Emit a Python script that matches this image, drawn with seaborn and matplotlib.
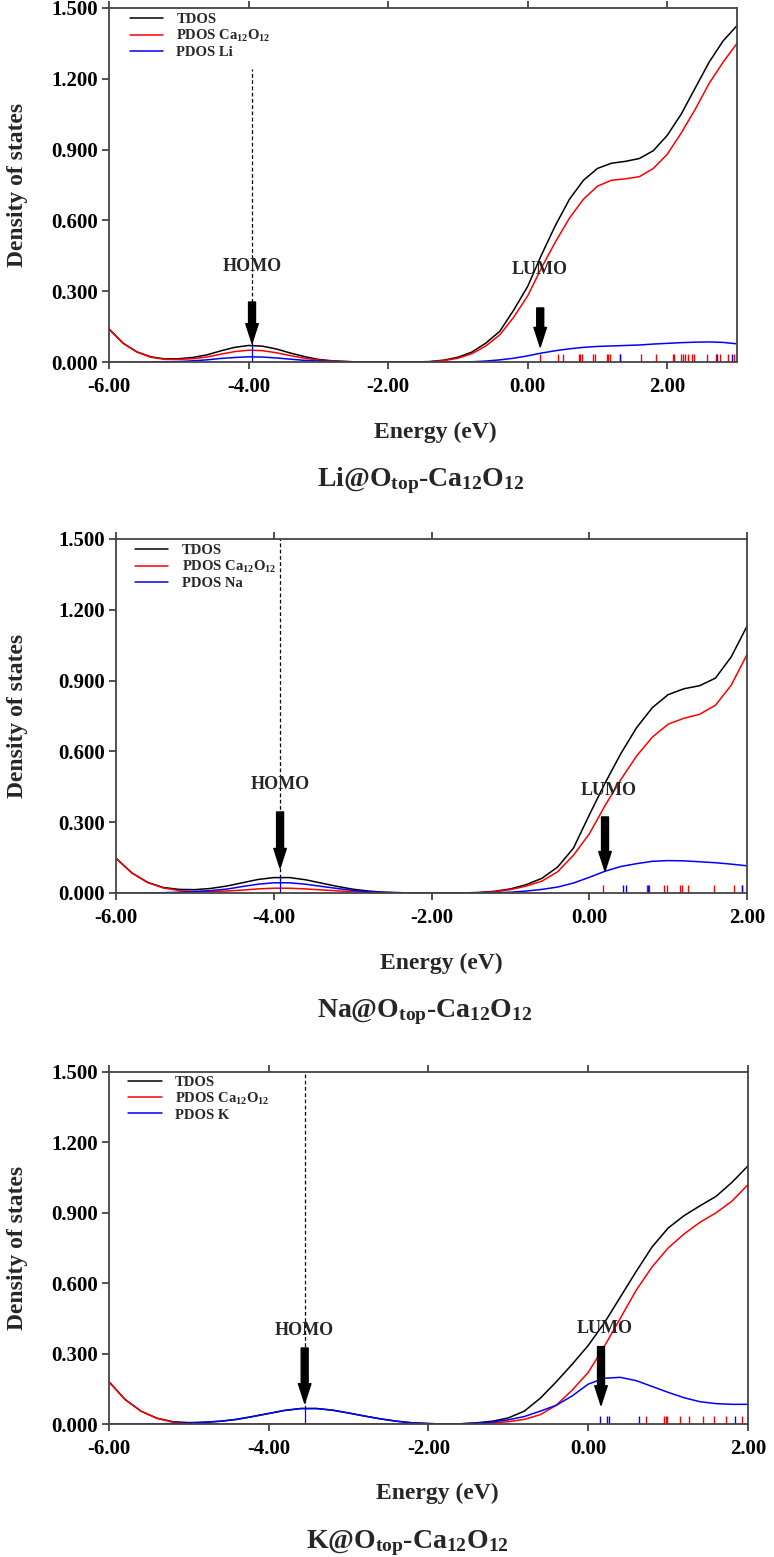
import numpy as np
import pandas as pd
import matplotlib
matplotlib.use("Agg")
import matplotlib.pyplot as plt
from matplotlib.ticker import FormatStrFormatter
import seaborn as sns

# === DOS curves (energy in eV) ===
li_energy = [-6.0, -5.8, -5.6, -5.4, -5.2, -5.0, -4.8, -4.6, -4.4, -4.2, -4.0, -3.8, -3.6, -3.4, -3.2, -3.0,
             -2.8, -2.6, -2.4, -2.2, -2.0, -1.8, -1.6, -1.4, -1.2, -1.0, -0.8, -0.6, -0.4, -0.2, 0.0, 0.2,
             0.4, 0.6, 0.8, 1.0, 1.2, 1.4, 1.6, 1.8, 2.0, 2.2, 2.4, 2.6, 2.8, 3.0]
li_tdos = [0.140, 0.080, 0.043, 0.022, 0.013, 0.014, 0.019, 0.030, 0.047, 0.062, 0.070, 0.067, 0.055, 0.038,
           0.023, 0.011, 0.005, 0.002, 0.0, 0.0, 0.0, 0.0, 0.0, 0.002, 0.008, 0.020, 0.042, 0.080, 0.130,
           0.220, 0.320, 0.455, 0.580, 0.690, 0.770, 0.820, 0.842, 0.850, 0.862, 0.895, 0.960, 1.050, 1.160,
           1.270, 1.360, 1.425]
li_cage = [0.140, 0.080, 0.042, 0.020, 0.011, 0.011, 0.014, 0.021, 0.033, 0.044, 0.050, 0.048, 0.039, 0.027,
           0.016, 0.008, 0.004, 0.002, 0.0, 0.0, 0.0, 0.0, 0.0, 0.001, 0.006, 0.016, 0.035, 0.068, 0.115,
           0.190, 0.280, 0.400, 0.510, 0.610, 0.690, 0.745, 0.770, 0.776, 0.785, 0.820, 0.880, 0.970, 1.070,
           1.180, 1.270, 1.350]
li_metal = [0.0, 0.0, 0.0, 0.0, 0.001, 0.002, 0.005, 0.009, 0.015, 0.019, 0.022, 0.021, 0.017, 0.012, 0.007,
            0.004, 0.002, 0.001, 0.0, 0.0, 0.0, 0.0, 0.0, 0.0, 0.0, 0.0, 0.001, 0.004, 0.009, 0.016, 0.026,
            0.038, 0.048, 0.056, 0.062, 0.066, 0.068, 0.070, 0.072, 0.076, 0.079, 0.082, 0.084, 0.085, 0.083,
            0.077]

na_energy = [-6.0, -5.8, -5.6, -5.4, -5.2, -5.0, -4.8, -4.6, -4.4, -4.2, -4.0, -3.8, -3.6, -3.4, -3.2, -3.0,
             -2.8, -2.6, -2.4, -2.2, -2.0, -1.8, -1.6, -1.4, -1.2, -1.0, -0.8, -0.6, -0.4, -0.2, 0.0, 0.2,
             0.4, 0.6, 0.8, 1.0, 1.2, 1.4, 1.6, 1.8, 2.0]
na_tdos = [0.147, 0.085, 0.045, 0.023, 0.015, 0.014, 0.019, 0.029, 0.043, 0.057, 0.065, 0.065, 0.056, 0.042,
           0.028, 0.016, 0.008, 0.003, 0.001, 0.0, 0.0, 0.0, 0.0, 0.002, 0.007, 0.017, 0.035, 0.062, 0.110,
           0.190, 0.330, 0.465, 0.590, 0.700, 0.785, 0.840, 0.865, 0.878, 0.910, 1.000, 1.130]
na_cage = [0.147, 0.085, 0.044, 0.021, 0.010, 0.006, 0.006, 0.008, 0.012, 0.017, 0.020, 0.020, 0.017, 0.013,
           0.009, 0.005, 0.003, 0.001, 0.0, 0.0, 0.0, 0.0, 0.0, 0.001, 0.005, 0.014, 0.029, 0.050, 0.090,
           0.160, 0.250, 0.370, 0.480, 0.580, 0.660, 0.715, 0.740, 0.757, 0.795, 0.880, 1.010]
na_metal = [0.0, 0.0, 0.0, 0.001, 0.003, 0.006, 0.010, 0.016, 0.027, 0.037, 0.043, 0.043, 0.037, 0.028, 0.019,
            0.011, 0.005, 0.002, 0.001, 0.0, 0.0, 0.0, 0.0, 0.0, 0.001, 0.003, 0.008, 0.015, 0.025, 0.042,
            0.066, 0.092, 0.112, 0.124, 0.134, 0.137, 0.136, 0.132, 0.128, 0.122, 0.115]

k_energy = [-6.0, -5.8, -5.6, -5.4, -5.2, -5.0, -4.8, -4.6, -4.4, -4.2, -4.0, -3.8, -3.6, -3.4, -3.2, -3.0,
            -2.8, -2.6, -2.4, -2.2, -2.0, -1.8, -1.6, -1.4, -1.2, -1.0, -0.8, -0.6, -0.4, -0.2, 0.0, 0.2,
            0.4, 0.6, 0.8, 1.0, 1.2, 1.4, 1.6, 1.8, 2.0]
k_tdos = [0.180, 0.105, 0.055, 0.025, 0.010, 0.006, 0.008, 0.012, 0.020, 0.032, 0.045, 0.058, 0.066, 0.066,
          0.059, 0.047, 0.034, 0.022, 0.012, 0.005, 0.002, 0.0, 0.001, 0.005, 0.012, 0.026, 0.055, 0.110,
          0.180, 0.255, 0.335, 0.430, 0.540, 0.650, 0.755, 0.835, 0.888, 0.930, 0.970, 1.030, 1.100]
k_cage = [0.180, 0.105, 0.055, 0.024, 0.008, 0.002, 0.001, 0.0, 0.0, 0.0, 0.0, 0.0, 0.0, 0.0, 0.0, 0.0, 0.0,
          0.0, 0.0, 0.0, 0.0, 0.0, 0.0, 0.002, 0.005, 0.010, 0.020, 0.040, 0.080, 0.145, 0.220, 0.330, 0.450,
          0.570, 0.670, 0.750, 0.810, 0.860, 0.900, 0.950, 1.020]
k_metal = [0.0, 0.0, 0.0, 0.001, 0.002, 0.004, 0.007, 0.012, 0.020, 0.032, 0.045, 0.058, 0.066, 0.066, 0.059,
           0.047, 0.034, 0.022, 0.012, 0.005, 0.002, 0.0, 0.001, 0.004, 0.009, 0.018, 0.032, 0.055, 0.080,
           0.120, 0.170, 0.195, 0.199, 0.185, 0.160, 0.135, 0.112, 0.095, 0.087, 0.084, 0.084]

# === Eigenvalue sticks along the energy axis ===
li_sticks_red = [0.17, 0.44, 0.50, 0.73, 0.75, 0.78, 0.93, 0.96, 1.13, 1.15, 1.18, 1.33, 1.63, 1.84, 2.08,
                 2.10, 2.20, 2.22, 2.25, 2.30, 2.35, 2.39, 2.57, 2.70, 2.75, 2.87, 2.96]
li_sticks_blue = [1.33, 2.72, 2.93]
na_sticks_red = [0.17, 0.73, 0.76, 0.95, 0.99, 1.15, 1.17, 1.25, 1.58, 1.84, 1.94]
na_sticks_blue = [0.43, 0.47, 0.74, 1.94]
k_sticks_red = [0.72, 0.95, 0.97, 0.99, 1.15, 1.26, 1.44, 1.58, 1.72, 1.92]
k_sticks_blue = [0.15, 0.23, 0.26, 0.64, 1.84]

series_names = ["TDOS", "PDOS Ca$_{12}$O$_{12}$"]
y_ticks = [0.0, 0.3, 0.6, 0.9, 1.2, 1.5]

# === Style ===
sns.set_theme(style="ticks")
plt.rcParams["font.family"] = ["Liberation Serif", "DejaVu Serif"]
plt.rcParams["font.weight"] = "bold"
plt.rcParams["axes.labelweight"] = "bold"
plt.rcParams["axes.unicode_minus"] = False
plt.rcParams["mathtext.fontset"] = "custom"
plt.rcParams["mathtext.rm"] = "Liberation Serif:bold"
plt.rcParams["mathtext.it"] = "Liberation Serif:bold"
plt.rcParams["mathtext.bf"] = "Liberation Serif:bold"

fig = plt.figure(figsize=(7.74, 15.57), dpi=100)

panels = [
    dict(metal="Li", energy=li_energy, tdos=li_tdos, cage=li_cage, pdos=li_metal,
         red=li_sticks_red, blue=li_sticks_blue, xlim=(-6, 3),
         rect=[0.1408, 0.7675, 0.8114, 0.2274], leg=(0.033, 0.985),
         homo=-3.95, homo_top=1.24, homo_arrow=(0.254, 0.08), homo_lab=0.405,
         lumo=0.18, lumo_arrow=(0.229, 0.064), lumo_lab=(0.17, 0.39),
         xlab=(0.563, 0.7225), title=(0.543, 0.6911)),
    dict(metal="Na", energy=na_energy, tdos=na_tdos, cage=na_cage, pdos=na_metal,
         red=na_sticks_red, blue=na_sticks_blue, xlim=(-6, 2),
         rect=[0.1499, 0.4265, 0.8152, 0.2274], leg=(0.030, 0.985),
         homo=-3.92, homo_top=1.5, homo_arrow=(0.343, 0.106), homo_lab=0.458,
         lumo=0.20, lumo_arrow=(0.322, 0.093), lumo_lab=(0.25, 0.436),
         xlab=(0.570, 0.3815), title=(0.548, 0.3500)),
    dict(metal="K", energy=k_energy, tdos=k_tdos, cage=k_cage, pdos=k_metal,
         red=k_sticks_red, blue=k_sticks_blue, xlim=(-6, 2),
         rect=[0.1408, 0.0854, 0.8256, 0.2261], leg=(0.030, 0.99),
         homo=-3.55, homo_top=1.5, homo_arrow=(0.324, 0.089), homo_lab=0.40,
         lumo=0.16, lumo_arrow=(0.33, 0.08), lumo_lab=(0.20, 0.405),
         xlab=(0.565, 0.0411), title=(0.526, 0.0090)),
]

for p in panels:
    ax = fig.add_axes(p["rect"])
    labels = series_names + ["PDOS " + p["metal"]]
    n = len(p["energy"])
    df = pd.DataFrame({
        "Energy": p["energy"] * 3,
        "DOS": p["tdos"] + p["cage"] + p["pdos"],
        "series": [labels[0]] * n + [labels[1]] * n + [labels[2]] * n,
    })
    palette = {labels[0]: "black", labels[1]: "#ff0000", labels[2]: "#0000ff"}
    sns.lineplot(data=df, x="Energy", y="DOS", hue="series", hue_order=labels, palette=palette,
                 linewidth=1.1, errorbar=None, ax=ax)

    # eigenvalue sticks
    ax.vlines(p["red"], 0, 0.034, colors="#ff0000", linewidth=1.0)
    ax.vlines(p["blue"], 0, 0.034, colors="#0000ff", linewidth=1.0)

    # HOMO marker line
    peak = np.interp(p["homo"], p["energy"], p["tdos"])
    ax.plot([p["homo"], p["homo"]], [peak, p["homo_top"]], color="black", lw=0.9, ls=(0, (3, 2)))
    ax.plot([p["homo"], p["homo"]], [0, peak], color="#0000ff", lw=0.9)

    arrow = dict(arrowstyle="simple,head_length=1.4,head_width=0.9,tail_width=0.5",
                 color="black", shrinkA=0, shrinkB=0, mutation_scale=10)
    ax.annotate("", xy=(p["homo"], p["homo_arrow"][1]), xytext=(p["homo"], p["homo_arrow"][0]),
                arrowprops=arrow)
    ax.annotate("", xy=(p["lumo"], p["lumo_arrow"][1]), xytext=(p["lumo"], p["lumo_arrow"][0]),
                arrowprops=arrow)
    ax.text(p["homo"], p["homo_lab"], "HOMO", ha="center", va="center", fontsize=13, fontweight="bold")
    ax.text(p["lumo_lab"][0], p["lumo_lab"][1], "LUMO", ha="center", va="center", fontsize=13,
            fontweight="bold")

    ax.set_xlim(*p["xlim"])
    ax.set_ylim(0, 1.5)
    ax.set_xticks(np.arange(p["xlim"][0], p["xlim"][1] + 0.1, 2))
    ax.set_yticks(y_ticks)
    ax.xaxis.set_major_formatter(FormatStrFormatter("%.2f"))
    ax.yaxis.set_major_formatter(FormatStrFormatter("%.3f"))
    ax.tick_params(axis="both", direction="out", length=5, width=1.2, labelsize=15, colors="#333333",
                   labelcolor="black")
    ax.tick_params(axis="x", top=True, labeltop=False, pad=6)
    ax.tick_params(axis="y", right=False, pad=3)
    for s in ax.spines.values():
        s.set_color("#444444")
        s.set_linewidth(1.3)
    ax.set_xlabel("")
    ax.set_ylabel("")

    handles, _ = ax.get_legend_handles_labels()
    ax.legend(handles, labels, loc="upper left", bbox_to_anchor=p["leg"], frameon=False,
              fontsize=10.5, handlelength=2.3, handletextpad=0.9, labelspacing=0.12,
              borderpad=0, borderaxespad=0)

    r = p["rect"]
    fig.text(0.023, r[1] + r[3] / 2, "Density of states", rotation=90, ha="center", va="center",
             fontsize=17, fontweight="bold")
    fig.text(p["xlab"][0], p["xlab"][1], "Energy (eV)", ha="center", va="center", fontsize=17,
             fontweight="bold")
    fig.text(p["title"][0], p["title"][1], p["metal"] + "@O$_{top}$-Ca$_{12}$O$_{12}$", ha="center",
             va="center", fontsize=20, fontweight="bold")

fig.savefig("out.png", dpi=100)
